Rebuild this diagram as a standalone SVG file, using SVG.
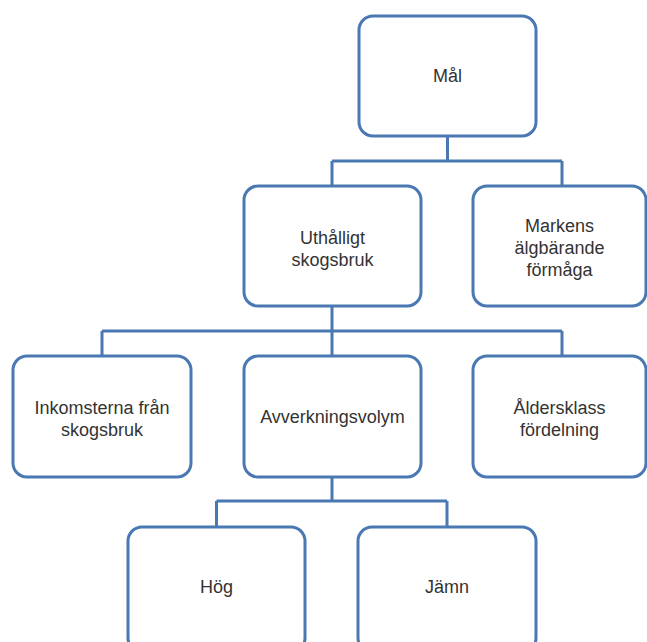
<svg xmlns="http://www.w3.org/2000/svg" width="647" height="642" viewBox="0 0 647 642">
<style>
.box{fill:#ffffff;stroke:#4a78b2;stroke-width:3}
.con{fill:none;stroke:#4a78b2;stroke-width:3}
text{font-family:"Liberation Sans",Arial,sans-serif;font-size:18px;fill:#333333;text-anchor:middle}
</style>
<rect width="647" height="642" fill="#ffffff"/>
<g id="connectors">
<path class="con" d="M447.5 136V161M332 161H562M332 161V186M562 161V186"/>
<path class="con" d="M332 306V331M102 331H562M102 331V356M332 331V356M562 331V356"/>
<path class="con" d="M332 477V501M216.5 501H447M216.5 501V527M447 501V527"/>
</g>
<g id="mal"><rect class="box" x="359" y="16" width="177" height="120" rx="14"/><text x="447.5" y="82">Mål</text></g>
<g id="uthalligt"><rect class="box" x="244" y="186" width="177" height="120" rx="14"/><text x="332.5" y="244">Uthålligt</text><text x="332.5" y="266">skogsbruk</text></g>
<g id="markens"><rect class="box" x="473" y="186" width="173" height="120" rx="14"/><text x="559.5" y="232">Markens</text><text x="559.5" y="254">älgbärande</text><text x="559.5" y="276">förmåga</text></g>
<g id="inkomsterna"><rect class="box" x="13" y="356" width="178" height="121" rx="14"/><text x="102" y="414">Inkomsterna från</text><text x="102" y="436">skogsbruk</text></g>
<g id="avverkningsvolym"><rect class="box" x="244" y="356" width="177" height="121" rx="14"/><text x="332.5" y="423">Avverkningsvolym</text></g>
<g id="aldersklass"><rect class="box" x="473" y="356" width="173" height="121" rx="14"/><text x="559.5" y="414">Åldersklass</text><text x="559.5" y="436">fördelning</text></g>
<g id="hog"><rect class="box" x="128" y="527" width="177" height="125" rx="14"/><text x="216.5" y="593">Hög</text></g>
<g id="jamn"><rect class="box" x="358" y="527" width="178" height="125" rx="14"/><text x="447" y="593">Jämn</text></g>
</svg>
